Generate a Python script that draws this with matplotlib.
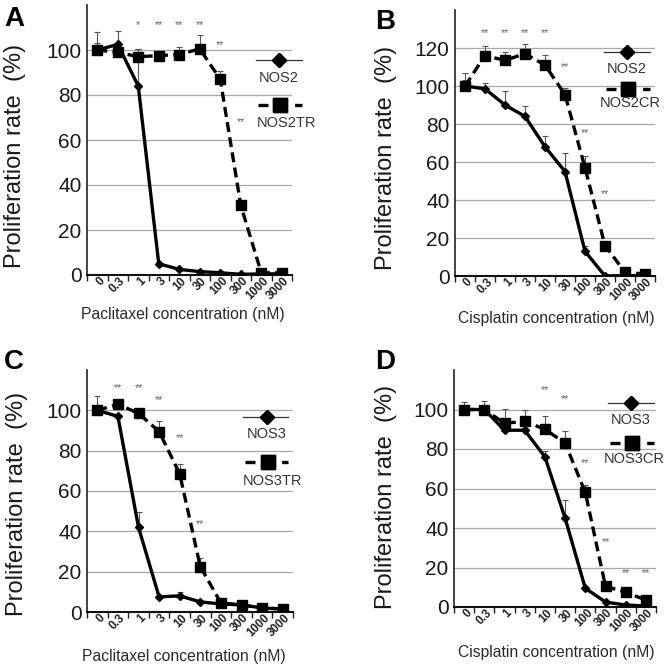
import matplotlib
matplotlib.use('Agg')
import matplotlib.pyplot as plt
from matplotlib.lines import Line2D
from matplotlib.transforms import ScaledTranslation

plt.rcParams['font.family'] = ['Liberation Sans', 'DejaVu Sans']

W, H = 672, 669

conc = ['0', '0.3', '1', '3', '10', '30', '100', '300', '1000', '3000']

# panel A - paclitaxel, NOS2 vs NOS2TR
nos2_a = [100, 102.5, 84, 5, 2.5, 1.5, 1, 0.3, 0.5, 0.5]
nos2_a_err = [3, 6, 16.5, 0, 0, 0, 0, 0, 0, 0]
nos2tr_a = [100, 99, 97, 97.5, 98, 100.5, 87, 31, 1, 1]
nos2tr_a_err = [8, 0, 3.5, 0, 3.5, 6, 3.5, 0, 0, 0]
star_idx_a = [2, 3, 4, 5, 6, 7]
star_y_a = [111, 111, 111, 111, 102, 68]
star_txt_a = ['*', '**', '**', '**', '**', '**']

# panel B - cisplatin, NOS2 vs NOS2CR
nos2_b = [100, 98.5, 90, 84, 68, 55, 13, 0, 0.2, 0.2]
nos2_b_err = [3, 3, 7.5, 5.5, 5.5, 9.5, 3, 0, 0, 0]
nos2cr_b = [100, 116, 113.5, 117, 111, 95.5, 57, 16, 2, 1]
nos2cr_b_err = [7, 5, 4.5, 5, 5.5, 3.5, 6, 0, 0, 0]
star_idx_b = [1, 2, 3, 4, 5, 6, 7]
star_y_b = [128, 128, 128, 128, 110, 75, 43]
star_txt_b = ['**'] * 7

# panel C - paclitaxel, NOS3 vs NOS3TR
nos3_c = [100, 97, 42, 7.5, 8, 5, 4, 3.5, 2, 1.5]
nos3_c_err = [7, 0, 7.5, 0, 2, 0, 0, 0, 0, 0]
nos3tr_c = [100, 103, 98.5, 89.5, 68.5, 22.5, 4.5, 3.5, 2, 1.5]
nos3tr_c_err = [2, 2, 0, 5, 5, 4.5, 0, 0, 0, 0]
star_idx_c = [1, 2, 3, 4, 5]
star_y_c = [111, 111, 105, 86, 43.5]
star_txt_c = ['**'] * 5

# panel D - cisplatin, NOS3 vs NOS3CR
nos3_d = [100, 100, 89.5, 89.5, 76, 45, 9.5, 2.5, 1, 0.5]
nos3_d_err = [4, 4.5, 0, 0, 3, 9, 0, 0, 0, 0]
nos3cr_d = [100, 100, 93, 94, 90, 83, 58, 10.5, 7.5, 3.5]
nos3cr_d_err = [0, 0, 7.5, 5.5, 6.5, 6, 4, 0, 0, 0]
star_idx_d = [4, 5, 6, 7, 8, 9]
star_y_d = [110, 105.5, 73, 33, 17, 17]
star_txt_d = ['**'] * 6

fig = plt.figure(figsize=(W / 100, H / 100), dpi=100)


def fx(x):
    return x / W


def fy(y):
    return 1 - y / H


def ftext(x, y, s, **kw):
    fig.text(fx(x), fy(y), s, ha='center', va='center', **kw)


def fline(x0, x1, y, **kw):
    fig.add_artist(Line2D([fx(x0), fx(x1)], [fy(y), fy(y)],
                          transform=fig.transFigure, **kw))


panels = [
    dict(letter='A', box=(87, 5, 292, 275), ymax=120, ytop=100,
         solid=(nos2_a, nos2_a_err), dashed=(nos2tr_a, nos2tr_a_err),
         names=('NOS2', 'NOS2TR'), stars=(star_idx_a, star_y_a, star_txt_a),
         xlabel='Paclitaxel concentration (nM)', letter_pos=(14, 19),
         ylab=(15, 156), xlab=(183, 315),
         leg=(256, 302, 279, 60, 78, 105, 123, 286)),
    dict(letter='B', box=(455, 10, 655, 276), ymax=140, ytop=120,
         solid=(nos2_b, nos2_b_err), dashed=(nos2cr_b, nos2cr_b_err),
         names=('NOS2', 'NOS2CR'), stars=(star_idx_b, star_y_b, star_txt_b),
         xlabel='Cisplatin concentration (nM)', letter_pos=(385, 22),
         ylab=(386, 158), xlab=(556, 318),
         leg=(604, 650, 627, 52, 69, 89, 103, 630)),
    dict(letter='C', box=(87, 370, 293, 612), ymax=120, ytop=100,
         solid=(nos3_c, nos3_c_err), dashed=(nos3tr_c, nos3tr_c_err),
         names=('NOS3', 'NOS3TR'), stars=(star_idx_c, star_y_c, star_txt_c),
         xlabel='Paclitaxel concentration (nM)', letter_pos=(14, 362),
         ylab=(17, 504), xlab=(184, 657),
         leg=(243, 288, 267, 417, 434, 462, 481, 272)),
    dict(letter='D', box=(454, 370, 656, 607), ymax=120, ytop=100,
         solid=(nos3_d, nos3_d_err), dashed=(nos3cr_d, nos3cr_d_err),
         names=('NOS3', 'NOS3CR'), stars=(star_idx_d, star_y_d, star_txt_d),
         xlabel='Cisplatin concentration (nM)', letter_pos=(385, 362),
         ylab=(386, 497), xlab=(556, 653),
         leg=(608, 654, 631, 403, 420, 443, 459, 634)),
]

x = list(range(len(conc)))

for p in panels:
    l, t, r, b = p['box']
    ax = fig.add_axes([fx(l), fy(b), fx(r - l), (b - t) / H])
    ax.set_xlim(-0.5, len(conc) - 0.5)
    ax.set_ylim(0, p['ymax'])
    ax.set_yticks(range(0, p['ytop'] + 1, 20))
    ax.yaxis.grid(True, color='#a8a8a8', lw=0.9)
    ax.set_axisbelow(True)
    for s in ['top', 'right']:
        ax.spines[s].set_visible(False)
    ax.spines['left'].set_color('#222222')
    ax.spines['bottom'].set_color('#111111')
    ax.spines['left'].set_linewidth(1.2)
    ax.spines['bottom'].set_linewidth(1.5)
    ax.tick_params(axis='y', length=0, pad=4, labelsize=15, labelcolor='#1a1a1a')
    ax.set_xticks(x)
    ax.set_xticks([i - 0.5 for i in range(len(conc) + 1)], minor=True)
    ax.tick_params(axis='x', which='major', length=0, pad=3)
    ax.tick_params(axis='x', which='minor', length=4, width=1, color='#222222')
    ax.set_xticklabels(conc, rotation=45, ha='right', va='center',
                       rotation_mode='anchor', fontsize=8.5, fontweight='bold',
                       color='#222222')
    off = ScaledTranslation(4 / 72, 0, fig.dpi_scale_trans)
    for lab in ax.get_xticklabels():
        lab.set_transform(lab.get_transform() + off)

    sv, se = p['solid']
    dv, de = p['dashed']
    ax.errorbar(x, sv, yerr=[[0] * len(se), se], fmt='none', ecolor='#555555',
                elinewidth=0.8, capsize=2, capthick=0.8, zorder=2)
    ax.errorbar(x, dv, yerr=[[0] * len(de), de], fmt='none', ecolor='#555555',
                elinewidth=0.8, capsize=2, capthick=0.8, zorder=2)
    ax.plot(x, sv, color='black', lw=2.4, marker='D', ms=4, zorder=3)
    ax.plot(x, dv, color='black', lw=2.4, ls=(0, (3, 1.6)), marker='s', ms=7,
            zorder=4)

    si, sy, st = p['stars']
    for i, yv, s in zip(si, sy, st):
        ax.text(i, yv, s, ha='center', va='center', fontsize=7.5, color='#666666')

    # labels
    lx, ly = p['letter_pos']
    ftext(lx, ly, p['letter'], fontsize=20, fontweight='bold')
    yx, yy = p['ylab']
    ftext(yx, yy, 'Proliferation rate  (%)', fontsize=17, rotation=90,
          color='#1a1a1a')
    xx, xy = p['xlab']
    ftext(xx, xy, p['xlabel'], fontsize=11.3, color='#2a2a2a')

    # hand-made legend
    x0, x1, xm, y1, t1, y2, t2, tx2 = p['leg']
    fline(x0, x1, y1, color='#333333', lw=0.9)
    fline(xm, xm, y1, marker='D', ms=7, color='black', lw=0)
    ftext(xm, t1, p['names'][0], fontsize=10.5, color='#333333')
    fline(x0 + 2, x1, y2, color='black', lw=2.4, ls=(0, (3, 2.5)))
    fline(xm + 1, xm + 1, y2, marker='s', ms=10, color='black', lw=0)
    ftext(tx2, t2, p['names'][1], fontsize=10.5, color='#333333')

fig.savefig('out.png', dpi=100)
